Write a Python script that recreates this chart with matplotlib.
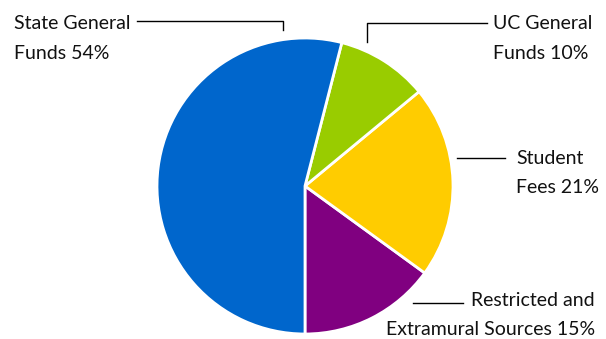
import matplotlib
matplotlib.use("Agg")
import matplotlib.pyplot as plt

# budget shares, drawn counter-clockwise starting at the bottom
sources = ["Restricted and Extramural Sources", "Student Fees",
           "UC General Funds", "State General Funds"]
shares = [15, 21, 10, 54]
colors = ["#800080", "#FFCC00", "#99CC00", "#0066CC"]

plt.rcParams['font.family'] = ['Lato', 'DejaVu Sans']

W, H = 606, 339
fig = plt.figure(figsize=(W / 100, H / 100), dpi=100)
ax = fig.add_axes([0, 0, 1, 1])


def py(y):
    # pixel row measured from the top -> axes y
    return H - y


ax.pie(shares, colors=colors, startangle=270, counterclock=True,
       center=(305, py(186)), radius=148,
       wedgeprops=dict(edgecolor="white", linewidth=2))
ax.set_xlim(0, W)
ax.set_ylim(0, H)
ax.set_aspect("auto")
ax.axis("off")

kw = dict(fontsize=14, color="#111111", va="baseline")
line = dict(color="black", lw=1)

# State General Funds (top left)
ax.text(14, py(29), "State General", ha="left", **kw)
ax.text(14, py(59), f"Funds {shares[3]}%", ha="left", **kw)
ax.plot([137, 283, 283], [py(21), py(21), py(30)], **line)

# UC General Funds (top right)
ax.text(493, py(29), "UC General", ha="left", **kw)
ax.text(493, py(59), f"Funds {shares[2]}%", ha="left", **kw)
ax.plot([487, 367, 367], [py(22.5), py(22.5), py(42)], **line)

# Student Fees (right)
ax.text(516, py(164), "Student", ha="left", **kw)
ax.text(516, py(193), f"Fees {shares[1]}%", ha="left", **kw)
ax.plot([457, 505], [py(158), py(158)], **line)

# Restricted and Extramural Sources (bottom right)
ax.text(595, py(306), "Restricted and", ha="right", **kw)
ax.text(595, py(335), f"Extramural Sources {shares[0]}%", ha="right", **kw)
ax.plot([413, 463], [py(302.5), py(302.5)], **line)

fig.savefig("out.png", dpi=100)
